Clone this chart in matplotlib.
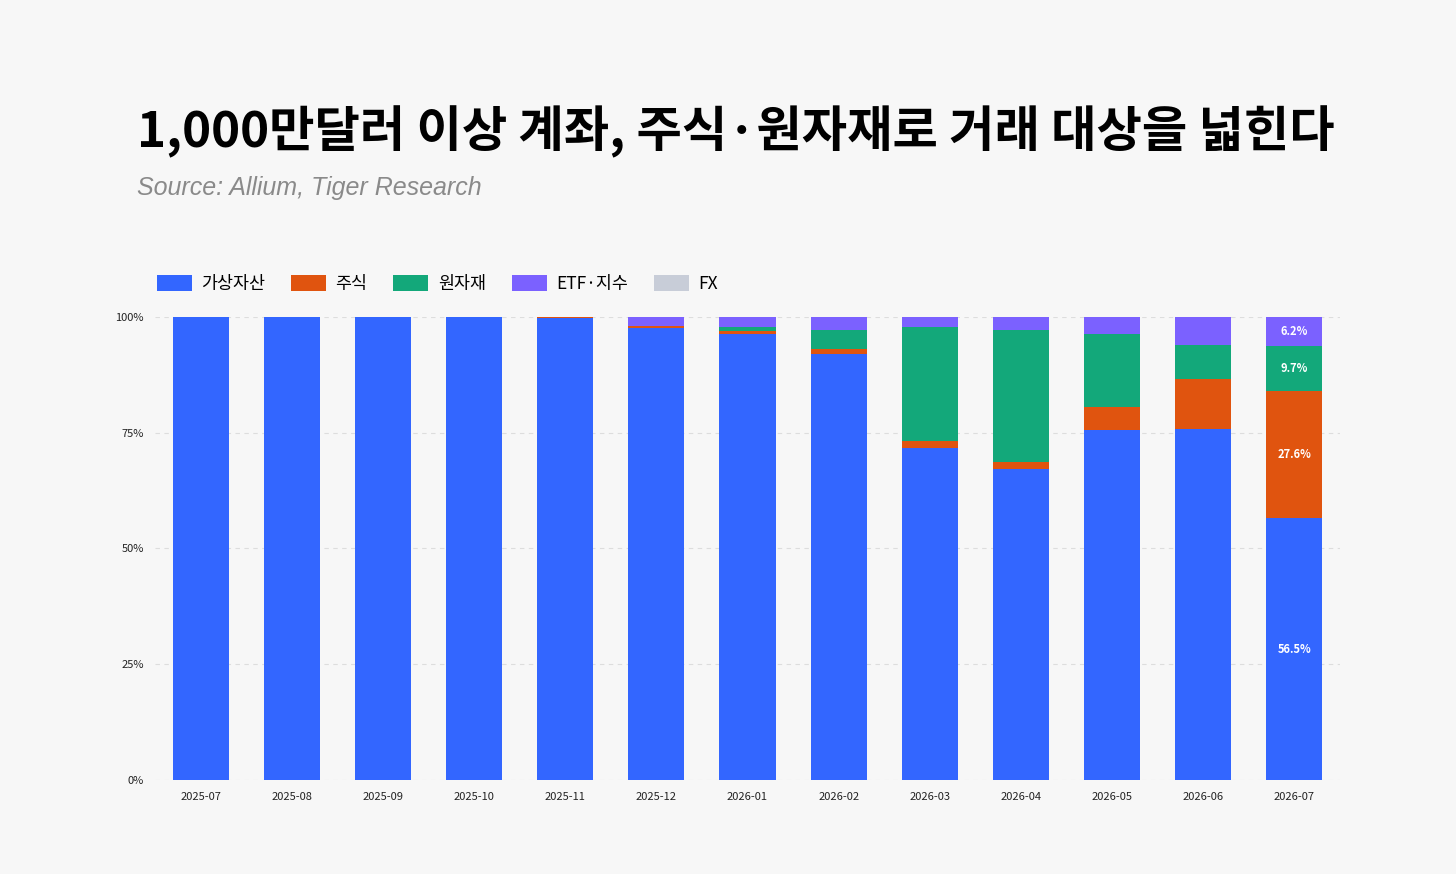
import matplotlib
matplotlib.use('Agg')
import matplotlib.pyplot as plt
import matplotlib.ticker as ticker
import numpy as np

plt.rcParams['font.family'] = ['Noto Sans CJK KR', 'DejaVu Sans']

MONTHS = ['2025-07', '2025-08', '2025-09', '2025-10', '2025-11', '2025-12', '2026-01',
          '2026-02', '2026-03', '2026-04', '2026-05', '2026-06', '2026-07']
SERIES = ['가상자산', '주식', '원자재', 'ETF·지수', 'FX']
COLORS = ['#3366FF', '#E0540F', '#13A87A', '#7B61FF', '#C8CDD8']

crypto    = [100.0, 100.0, 100.0, 100.0, 99.8, 97.6, 96.3, 92.0, 71.7, 67.2, 75.6, 75.8, 56.5]
stocks    = [0.0, 0.0, 0.0, 0.0, 0.2, 0.4, 0.6, 1.0, 1.5, 1.4, 5.0, 10.8, 27.6]
commodity = [0.0, 0.0, 0.0, 0.0, 0.0, 0.0, 0.9, 4.1, 24.6, 28.5, 15.8, 7.3, 9.7]
etf_index = [0.0, 0.0, 0.0, 0.0, 0.0, 2.0, 2.2, 2.9, 2.2, 2.9, 3.6, 6.1, 6.2]
fx        = [0.0, 0.0, 0.0, 0.0, 0.0, 0.0, 0.0, 0.0, 0.0, 0.0, 0.0, 0.0, 0.0]

BG = '#F7F7F7'
fig = plt.figure(figsize=(14.56, 8.74), dpi=100)
fig.patch.set_facecolor(BG)
ax = fig.add_axes([0.1065, 0.1076, 0.8138, 0.5297])
ax.set_facecolor(BG)

x = np.arange(len(MONTHS))
bottom = np.zeros(len(MONTHS))
for name, vals, col in zip(SERIES, [crypto, stocks, commodity, etf_index, fx], COLORS):
    vals = np.array(vals, dtype=float)
    ax.bar(x, vals, bottom=bottom, width=0.615, color=col, label=name,
           edgecolor='none', zorder=3)
    # label the last month only
    v = vals[-1]
    if v >= 5:
        ax.text(x[-1], bottom[-1] + v / 2, f"{v:.1f}%", ha='center', va='center',
                color='white', fontsize=8, fontweight='bold', zorder=4)
    bottom += vals

ax.set_xlim(-0.5, len(MONTHS) - 0.5)
ax.set_ylim(0, 100)
ax.set_xticks(x)
ax.set_xticklabels(MONTHS, fontsize=8, color='#222222')
ax.set_yticks([0, 25, 50, 75, 100])
ax.yaxis.set_major_formatter(ticker.FuncFormatter(lambda v, _: f"{v:.0f}%"))
ax.tick_params(axis='y', labelsize=8, colors='#222222', length=0, pad=8)
ax.tick_params(axis='x', length=0, pad=9)
ax.grid(axis='y', color='#DDDDDD', linestyle=(0, (4, 4)), linewidth=0.8, zorder=0)
for s in ax.spines.values():
    s.set_visible(False)

fig.text(0.094, 0.849, "1,000만달러 이상 계좌, 주식·원자재로 거래 대상을 넓힌다",
         fontsize=35.5, fontweight='heavy', color='#000000', ha='left', va='center')
fig.text(0.094, 0.785, "Source: Allium, Tiger Research", fontsize=18,
         fontstyle='italic', color='#8A8A8A', ha='left', va='center',
         family=['Liberation Sans', 'DejaVu Sans'])

fig.legend(loc='center left', bbox_to_anchor=(0.097, 0.675), ncol=5, frameon=False,
           fontsize=12.5, handlelength=2.0, handleheight=1.0, columnspacing=1.5,
           handletextpad=0.55)

plt.savefig('out.png', dpi=100, facecolor=fig.get_facecolor())
